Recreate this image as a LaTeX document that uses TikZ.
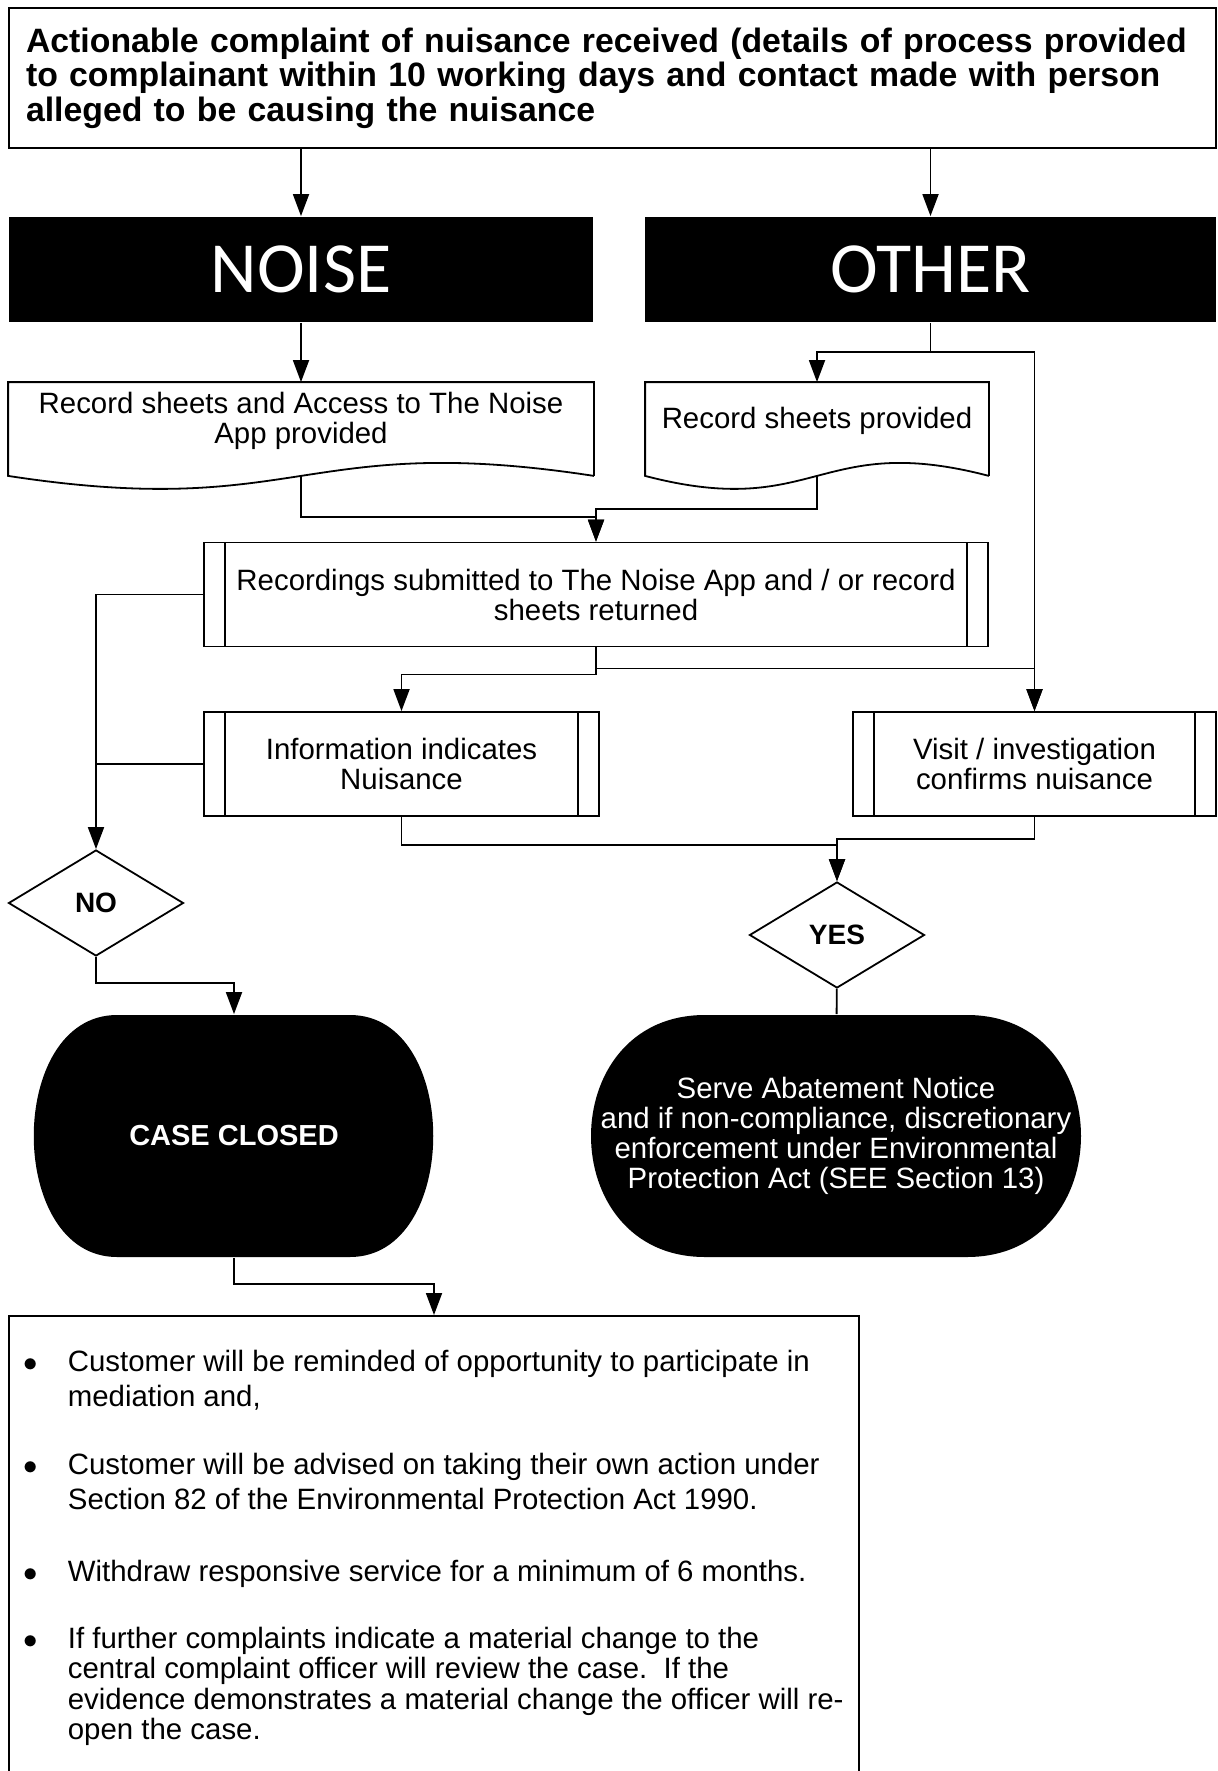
\documentclass[tikz,border=0pt]{standalone}
\usepackage{fontspec}
\setmainfont{Liberation Sans}
\newfontfamily\calibri{Carlito}
\newcommand{\bodyfont}{\fontsize{14.7pt}{15pt}\selectfont}
\newcommand{\headfont}{\bfseries\fontsize{16.9pt}{17.25pt}\selectfont}
\usetikzlibrary{shapes.geometric,arrows.meta}

\begin{document}
\begin{tikzpicture}[x=0.5pt,y=-0.5pt,line width=0.9pt,
    arr/.style={-{Stealth[length=11pt,width=8pt,inset=0pt]}},
    plainbox/.style={draw,inner sep=0pt,font=\bodyfont,align=center},
    title/.style={fill=black,text=white,inner sep=0pt,minimum height=52.5pt,
      font=\calibri\fontsize{36pt}{40pt}\selectfont},
    docsheet/.style={inner sep=0pt,minimum height=46pt,font=\bodyfont,align=center,text depth=11pt},
    process/.style={plainbox,minimum height=52pt,
      path picture={\draw ([xshift=10.5pt]path picture bounding box.north west) -- ([xshift=10.5pt]path picture bounding box.south west)
                          ([xshift=-10.5pt]path picture bounding box.north east) -- ([xshift=-10.5pt]path picture bounding box.south east);}},
    decision/.style={diamond,draw,inner sep=0pt,minimum width=87.5pt,minimum height=53pt,
      font=\bfseries\fontsize{14pt}{14pt}\selectfont},
    terminal/.style={text=white,inner sep=0pt,align=center,font=\bodyfont,minimum height=121pt},
    bulletitem/.style={anchor=base west,inner sep=0pt}]
  \useasboundingbox (0,0) rectangle (1218,1771);
  \clip (0,0) rectangle (1218,1771);

  % top of the chart
  \node[plainbox,minimum width=603.5pt,minimum height=70pt,text width=586.5pt,align=left,font=\headfont]
    (complaint) at (612.5,78) {Actionable complaint of nuisance received (details of process provided\\
    to complainant within 10 working days and contact made with person\\
    alleged to be causing the nuisance};
  \node[title,minimum width=292pt] (noise) at (301,269.5) {NOISE};
  \node[title,minimum width=285.5pt] (other) at (930.5,269.5) {OTHER};

  % record sheets
  \node[docsheet,minimum width=292pt] (doc1) at (301,429) {Record sheets and Access to The Noise\\App provided};
  \node[docsheet,minimum width=171pt] (doc2) at (817,429) {Record sheets provided};
  \foreach \d in {doc1,doc2}
    \draw (\d.south east) -- (\d.north east) -- (\d.north west) -- (\d.south west)
      .. controls ([yshift=-22.5pt]\d.south) and ([yshift=22.5pt]\d.south) .. (\d.south east);

  \node[process,minimum width=392pt] (rec) at (596,594.5) {Recordings submitted to The Noise App and / or record\\sheets returned};
  \node[process,minimum width=197.5pt] (info) at (401.5,764) {Information indicates\\Nuisance};
  \node[process,minimum width=181.5pt] (visit) at (1034.5,764) {Visit / investigation\\confirms nuisance};

  \node[decision] (no) at (96,903) {NO};
  \node[decision] (yes) at (837,935) {YES};

  % black end boxes
  \fill (117,1015) -- (350,1015) .. controls (461,1015) and (461,1257) .. (350,1257)
    -- (117,1257) .. controls (6,1257) and (6,1015) .. (117,1015) -- cycle;
  \fill (705,1015) -- (967,1015) .. controls (1119,1015) and (1119,1257) .. (967,1257)
    -- (705,1257) .. controls (553,1257) and (553,1015) .. (705,1015) -- cycle;
  \node[terminal,minimum width=198pt,font=\bfseries\fontsize{14.5pt}{15pt}\selectfont] (closed) at (234,1136) {CASE CLOSED};
  \node[terminal,minimum width=245pt] (serve) at (836,1136) {Serve Abatement Notice\\
    and if non-compliance, discretionary\\enforcement under Environmental\\Protection Act (SEE Section 13)};

  \node[draw,anchor=north,minimum width=425pt,minimum height=250pt] (steps) at (434,1315) {};
  \node[bulletitem,font=\fontsize{14.7pt}{17.5pt}\selectfont] (s1) at (23,1371) {\begin{tabular}[t]{@{}p{22pt}@{}l@{}}
    $\bullet$ & Customer will be reminded of opportunity to participate in\\ & mediation and,\end{tabular}};
  \node[bulletitem,font=\fontsize{14.7pt}{17.5pt}\selectfont] (s2) at (23,1474) {\begin{tabular}[t]{@{}p{22pt}@{}l@{}}
    $\bullet$ & Customer will be advised on taking their own action under\\ & Section 82 of the Environmental Protection Act 1990.\end{tabular}};
  \node[bulletitem,font=\fontsize{14.7pt}{17.5pt}\selectfont] (s3) at (23,1581) {\begin{tabular}[t]{@{}p{22pt}@{}l@{}}
    $\bullet$ & Withdraw responsive service for a minimum of 6 months.\end{tabular}};
  \node[bulletitem,font=\fontsize{14.7pt}{15.25pt}\selectfont] (s4) at (23,1648) {\begin{tabular}[t]{@{}p{22pt}@{}l@{}}
    $\bullet$ & If further complaints indicate a material change to the\\
    & central complaint officer will review the case.\ \ If the\\
    & evidence demonstrates a material change the officer will re-\\
    & open the case.\end{tabular}};

  % connectors
  \draw[arr] (complaint.south -| noise.north) -- (noise.north);
  \draw[arr] (complaint.south -| other.north) -- (other.north);
  \draw[arr] (noise) -- (doc1);
  \draw (other.south) -- ++(0,29) coordinate (split);
  \draw[arr] (split) -| (doc2.north);
  \draw[arr] (split) -| (visit.north);
  \draw[arr] (doc1.south) -- ++(0,41) -| (rec.north);
  \draw[arr] (doc2.south) -- ++(0,33) -| (rec.north);
  \draw[arr] (rec.west) -| (no.north);
  \draw (info.west) -- (info.west -| no.north);
  \draw[arr] (rec.south) -- ++(0,27) -| (info.north);
  \draw[arr] (rec.south) -- ++(0,21) -| (visit.north);
  \draw[arr] (info.south) -- ++(0,28) -| (yes.north);
  \draw[arr] (visit.south) -- ++(0,22) -| (yes.north);
  \draw[arr] (no.south) -- ++(0,26) -| (closed.north);
  \draw (yes) -- (serve);
  \draw[arr] (closed.south) -- ++(0,26) -| (steps.north);
\end{tikzpicture}
\end{document}
